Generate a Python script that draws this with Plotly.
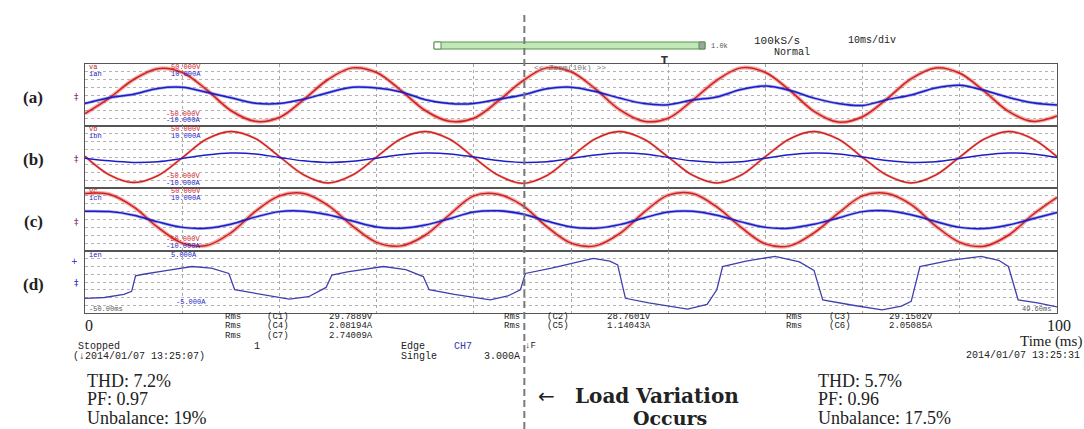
import plotly.graph_objects as go

W, H = 1084, 429

# ---- sampled waveforms (time in ms, amplitude in screen divisions, 8 div per panel) ----
sample_ms = [0, 2.5, 5, 7.5, 10, 12.5, 15, 17.5, 20, 22.5, 25, 27.5, 30, 32.5, 35, 37.5,
             40, 42.5, 45, 47.5, 50, 52.5, 55, 57.5, 60, 62.5, 65, 67.5, 70, 72.5, 75, 77.5,
             80, 82.5, 85, 87.5, 90, 92.5, 95, 97.5, 100]

va = [-2.4, -0.4, 2.0, 3.4, 2.9, 0.7, -2.0, -3.4, -2.9, -0.6, 2.0, 3.5, 2.9, 0.6, -2.0, -3.4,
      -3.0, -0.8, 1.8, 3.5, 3.0, 0.8, -1.9, -3.4, -3.0, -0.7, 1.9, 3.5, 2.9, 0.6, -2.1, -3.5,
      -2.8, -0.5, 2.1, 3.5, 2.8, 0.5, -2.1, -3.4, -2.7]
ian = [-1.1, -0.35, 0.1, 0.85, 1.0, 0.35, -0.35, -1.05, -1.1, -0.55, 0.3, 1.0, 0.9, 0.4, -0.6, -1.1,
       -1.1, -0.55, 0.0, 0.8, 1.0, 0.45, -0.4, -1.1, -1.25, -0.65, -0.25, 0.7, 1.15, 0.6, -0.4, -1.1,
       -1.35, -0.6, 0.0, 0.9, 1.25, 0.6, -0.3, -1.0, -1.3]

vb = [0.1, -2.3, -3.3, -2.4, -0.1, 2.3, 3.3, 2.4, 0.05, -2.3, -3.35, -2.35, 0.0, 2.35, 3.3, 2.3,
      -0.05, -2.35, -3.4, -2.4, 0.0, 2.35, 3.3, 2.3, 0.0, -2.35, -3.35, -2.35, 0.05, 2.35, 3.3, 2.3,
      -0.05, -2.35, -3.35, -2.35, 0.0, 2.3, 3.3, 2.35, 0.05]
ibn = [-0.15, -0.5, -0.7, -0.6, -0.2, 0.25, 0.5, 0.4, -0.05, -0.5, -0.7, -0.55, -0.15, 0.3, 0.5, 0.4,
       0.0, -0.45, -0.7, -0.6, -0.2, 0.25, 0.5, 0.4, -0.05, -0.5, -0.7, -0.6, -0.15, 0.3, 0.5, 0.4,
       0.0, -0.45, -0.7, -0.6, -0.2, 0.25, 0.5, 0.4, -0.05]

vc = [3.3, 3.2, 1.6, -1.0, -3.0, -3.3, -1.7, 1.0, 3.0, 3.3, 1.8, -0.8, -2.9, -3.35, -2.0, 0.6,
      3.0, 3.2, 1.8, -0.9, -3.0, -3.35, -1.8, 0.9, 3.1, 3.3, 1.6, -1.0, -3.1, -3.35, -1.7, 0.8,
      3.0, 3.3, 1.9, -0.8, -2.9, -3.4, -2.0, 0.6, 2.8]
icn = [1.05, 1.0, 0.55, -0.3, -1.0, -1.1, -0.6, 0.3, 1.0, 1.05, 0.6, -0.2, -0.95, -1.1, -0.7, 0.1,
       0.95, 1.1, 0.7, -0.2, -0.95, -1.1, -0.65, 0.2, 0.95, 1.05, 0.55, -0.3, -1.0, -1.1, -0.6, 0.2,
       1.0, 1.1, 0.6, -0.25, -1.0, -1.15, -0.7, 0.1, 0.9]

ien_ms = [0, 2, 4, 4.8, 5.2, 6, 8, 11, 13, 14.8, 15.4, 18, 21, 23, 24.8, 25.4, 27, 30.7, 33, 34.8,
          35.4, 38, 41.7, 43.5, 44.8, 45.3, 48, 52.3, 54, 54.8, 55.6, 58, 62, 64, 65, 65.6, 68, 71,
          73.5, 75, 75.9, 79, 82, 84, 85, 85.9, 89, 92.2, 94, 95, 96, 98, 100]
ien = [-2.1, -2.0, -1.6, -1.2, 0.8, 1.0, 1.4, 2.0, 1.8, 1.1, -1.0, -1.6, -2.2, -1.9, -0.7, 0.9, 1.3,
       2.0, 1.6, 0.7, -1.0, -1.6, -2.3, -1.8, -1.0, 1.1, 1.8, 3.05, 2.7, 2.2, -2.1, -2.7, -3.5, -2.9,
       -1.0, 2.0, 2.7, 3.3, 2.6, 1.5, -2.3, -3.0, -3.6, -3.1, -2.5, 2.0, 2.8, 3.3, 2.8, 2.0, -2.3,
       -2.7, -3.2]

load_step_ms = 45.2

panel_names = ["(a)", "(b)", "(c)", "(d)"]
chan_top = [("va", "ian"), ("vb", "ibn"), ("vc", "icn")]
volt_scale = ["50.000V", "-50.000V"]
amp_scale = ["10.000A", "-10.000A"]

rms_left = [("Rms", "(C1)", "29.7889V"), ("Rms", "(C4)", "2.08194A"), ("Rms", "(C7)", "2.74009A")]
rms_mid = [("Rms", "(C2)", "28.7601V"), ("Rms", "(C5)", "1.14043A")]
rms_right = [("Rms", "(C3)", "29.1502V"), ("Rms", "(C6)", "2.05085A")]

before_stats = ["THD: 7.2%", "PF: 0.97", "Unbalance: 19%"]
after_stats = ["THD: 5.7%", "PF: 0.96", "Unbalance: 17.5%"]

# ---- styling ----
RED = "#d2201e"
BLUE = "#1c1cc8"
BLUE_D = "#3f3fae"
LEFT, RIGHT = 85, 1057
panels_px = [(64, 126), (126, 188), (188, 251), (251, 313)]


def px(x):
    return x / W


def py(y):
    return 1 - y / H


fig = go.Figure()


def add_wave(i, t, y, color, width, halo=0):
    ax = "" if i == 1 else str(i)
    if halo:
        fig.add_trace(go.Scatter(x=t, y=y, mode="lines", xaxis="x" + ax, yaxis="y" + ax,
                                 line=dict(color=color, width=halo, shape="spline", smoothing=1.0),
                                 opacity=0.35, hoverinfo="skip", showlegend=False))
    fig.add_trace(go.Scatter(x=t, y=y, mode="lines", xaxis="x" + ax, yaxis="y" + ax,
                             line=dict(color=color, width=width, shape="spline", smoothing=1.0),
                             showlegend=False))


add_wave(1, sample_ms, va, RED, 1.5, halo=4)
add_wave(1, sample_ms, ian, BLUE, 1.5, halo=3)
add_wave(2, sample_ms, vb, RED, 1.4, halo=2.5)
add_wave(2, sample_ms, ibn, BLUE, 1.5)
add_wave(3, sample_ms, vc, RED, 1.5, halo=4)
add_wave(3, sample_ms, icn, BLUE, 1.5, halo=3)
fig.add_trace(go.Scatter(x=ien_ms, y=ien, mode="lines", xaxis="x4", yaxis="y4",
                         line=dict(color=BLUE_D, width=1.3), showlegend=False))

layout = dict(width=W, height=H, margin=dict(l=0, r=0, t=0, b=0),
              paper_bgcolor="white", plot_bgcolor="white", showlegend=False)
for i, (top, bot) in enumerate(panels_px, start=1):
    ax = "" if i == 1 else str(i)
    layout["xaxis" + ax] = dict(domain=[px(LEFT), px(RIGHT)], range=[0, 100], anchor="y" + ax,
                                showticklabels=False, ticks="", showgrid=True, dtick=10, tick0=0,
                                gridcolor="#a8a8a8", griddash="dot", gridwidth=1,
                                zeroline=False, showline=True, mirror=True,
                                linecolor="#555555", linewidth=1, fixedrange=True)
    layout["yaxis" + ax] = dict(domain=[py(bot), py(top)], range=[-4, 4], anchor="x" + ax,
                                showticklabels=False, ticks="", showgrid=True, dtick=1, tick0=0,
                                gridcolor="#b4b4b4", griddash="dot", gridwidth=1,
                                zeroline=False, showline=True, mirror=True,
                                linecolor="#555555", linewidth=1, fixedrange=True)
fig.update_layout(**layout)

ann = []


def text(x, y, s, size, color="#222", family="Liberation Mono", anchor="left", bold=False,
         vanchor="middle"):
    ann.append(dict(x=px(x), y=py(y), xref="paper", yref="paper", text=s, showarrow=False,
                    xanchor=anchor, yanchor=vanchor, borderpad=0,
                    font=dict(family=family, size=size, color=color,
                              weight="bold" if bold else "normal")))


# panel captions and small ground markers
for name, (top, bot) in zip(panel_names, panels_px):
    text(33, (top + bot) / 2 + 2, name, 17, "#222", "Liberation Serif", "center", bold=True)
for (top, bot) in panels_px[:3]:
    text(76, (top + bot) / 2 + 2, "‡", 9, "#8a2a70", "DejaVu Sans", "center")
text(74, 261, "+", 8, BLUE, "DejaVu Sans", "center")
text(76, 283, "‡", 9, BLUE, "DejaVu Sans", "center")

# channel names and vertical scale labels inside the panels
for (vname, iname), (top, bot) in zip(chan_top, panels_px[:3]):
    text(88, top + 3.5, vname, 7, RED)
    text(88, top + 10, iname, 7, BLUE)
    text(170, top + 3.5, volt_scale[0], 7, RED)
    text(170, top + 10, amp_scale[0], 7, BLUE)
    text(165, bot - 12, volt_scale[1], 7, RED)
    text(165, bot - 5.5, amp_scale[1], 7, BLUE)
text(88, 255, "ien", 7, BLUE)
text(170, 255, "5.000A", 7, BLUE)
text(175, 302, "-5.000A", 7, BLUE)
text(88, 309, "-50.00ms", 7, "#555")
text(1052, 309, "49.60ms", 7, "#555", anchor="right")

# acquisition header
text(710, 46, "1.0k", 7, "#555")
text(753, 41, "100kS/s", 11, "#222")
text(847, 41, "10ms/div", 10, "#222")
text(773, 52.5, "Normal", 10, "#222")
text(570, 67, "&lt;&lt; Zoom(10k) &gt;&gt;", 8, "#777", anchor="center")
text(664, 60, "T", 10, "#333", "DejaVu Sans", "center", bold=True)

# time axis labels
text(89, 325, "0", 16, "#222", "Liberation Serif", "center")
text(1059, 325, "100", 16, "#222", "Liberation Serif", "center")
text(1083, 341, "Time (ms)", 15, "#222", "Liberation Serif", "right")

# measurement readout
rms_rows_y = [316.5, 326, 335.5]
for (a, b, c), y in zip(rms_left, rms_rows_y):
    text(224, y, a, 9, "#222")
    text(266, y, b, 9, "#222")
    text(328, y, c, 9, "#222")
for cols, x0 in ((rms_mid, 503), (rms_right, 785)):
    for (a, b, c), y in zip(cols, rms_rows_y):
        text(x0, y, a, 9, "#222")
        text(x0 + 43, y, b, 9, "#222")
        text(x0 + 103, y, c, 9, "#222")

text(77, 346, "Stopped", 10, "#222")
text(257, 346, "1", 10, "#222", anchor="center")
text(72, 356, "(↓2014/01/07 13:25:07)", 10, "#222")
text(400, 346, "Edge", 10, "#222")
text(453, 346, "CH7", 10, "#3535b0")
text(400, 356, "Single", 10, "#222")
text(524, 346, "↓F", 9, "#222")
text(483, 356, "3.000A", 10, "#222")
text(1081, 355, "2014/01/07 13:25:31", 10, "#222", anchor="right")

# operating-point statistics
for x0, stats in ((86, before_stats), (817, after_stats)):
    text(x0, 381, stats[0], 18, "#222", "Liberation Serif")
    text(x0, 398.5, stats[1], 18, "#222", "Liberation Serif")
    text(x0, 429, stats[2], 18, "#222", "Liberation Serif", vanchor="bottom")
text(537, 396, "←", 20, "#222", "DejaVu Sans")
text(574, 396, "Load Variation", 20, "#222", "DejaVu Serif", bold=True)
text(670, 418, "Occurs", 19, "#222", "DejaVu Serif", "center", bold=True)

fig.update_layout(annotations=ann)

# record-length bar and load-step marker
fig.add_shape(type="rect", xref="paper", yref="paper", x0=px(434), x1=px(705), y0=py(49), y1=py(42),
              fillcolor="#c3e8b8", line=dict(color="#5b8f52", width=1))
fig.add_shape(type="rect", xref="paper", yref="paper", x0=px(434), x1=px(441), y0=py(49), y1=py(42),
              fillcolor="white", line=dict(color="#5b8f52", width=1))
fig.add_shape(type="rect", xref="paper", yref="paper", x0=px(699), x1=px(705), y0=py(49), y1=py(42),
              fillcolor="#9aa79a", line=dict(color="#5b8f52", width=1))
fig.add_shape(type="line", xref="x4", yref="paper", x0=load_step_ms, x1=load_step_ms,
              y0=py(15), y1=0, line=dict(color="#7a7a7a", width=2, dash="7px,4px"))

fig.write_html("out.html")
